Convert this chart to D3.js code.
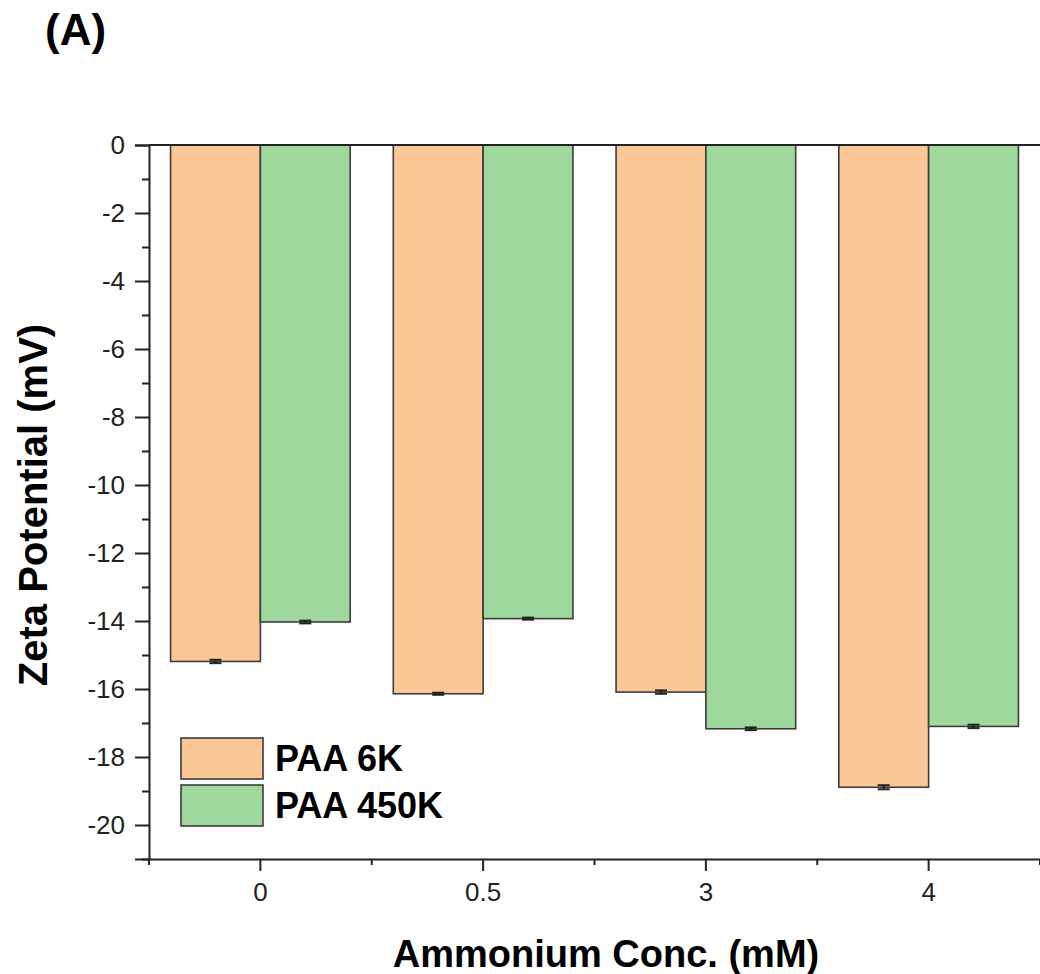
<!DOCTYPE html>
<html>
<head>
<meta charset="utf-8">
<script src="https://cdn.jsdelivr.net/npm/d3@7"></script>
<style>
  body { margin: 0; background: #fff; }
  svg { display: block; font-family: "Liberation Sans", Arial, sans-serif; }
</style>
</head>
<body>
<div id="container"></div>
<script>
// values
const categories = ["0", "0.5", "3", "4"];
const seriesNames = ["PAA 6K", "PAA 450K"];
const paa6k = [-15.19, -16.14, -16.09, -18.89];
const paa450k = [-14.03, -13.93, -17.17, -17.10];
const err6k = [0.05, 0.03, 0.05, 0.06];
const err450k = [0.04, 0.03, 0.04, 0.05];
const yMajor = [0, -2, -4, -6, -8, -10, -12, -14, -16, -18, -20];
const yMinor = [-1, -3, -5, -7, -9, -11, -13, -15, -17, -19, -21];

const colors = ["#fbc797", "#9fd89d"];

function init() {
  const width = 1040;
  const height = 974;
  const left = 149, right = 1040, top = 145, bottom = 859;

  const svg = d3.select("#container").append("svg")
    .attr("width", width)
    .attr("height", height);

  const x = d3.scaleBand().domain(categories).range([left, right]).padding(0);
  const xSub = d3.scaleBand().domain(seriesNames).range([0, x.bandwidth()])
    .paddingInner(0).paddingOuter(0.24);
  const y = d3.scaleLinear().domain([0, -21]).range([top, bottom]);

  const rows = categories.map((c, i) => ({
    cat: c,
    vals: [
      { name: seriesNames[0], v: paa6k[i], e: err6k[i], k: 0 },
      { name: seriesNames[1], v: paa450k[i], e: err450k[i], k: 1 }
    ]
  }));

  // bars
  const groups = svg.append("g").selectAll("g")
    .data(rows)
    .join("g")
    .attr("transform", d => `translate(${x(d.cat)},0)`);

  groups.selectAll("rect")
    .data(d => d.vals)
    .join("rect")
    .attr("x", d => xSub(d.name))
    .attr("y", y(0))
    .attr("width", xSub.bandwidth())
    .attr("height", d => y(d.v) - y(0))
    .attr("fill", d => colors[d.k])
    .attr("stroke", "#3c3c3c")
    .attr("stroke-width", 1.6);

  // error bars
  const eb = groups.selectAll("g.err")
    .data(d => d.vals)
    .join("g")
    .attr("class", "err")
    .attr("stroke", "#222")
    .attr("stroke-width", 2);
  eb.append("line")
    .attr("x1", d => xSub(d.name) + xSub.bandwidth() / 2)
    .attr("x2", d => xSub(d.name) + xSub.bandwidth() / 2)
    .attr("y1", d => y(d.v - d.e))
    .attr("y2", d => y(d.v + d.e));
  [-1, 1].forEach(s => {
    eb.append("line")
      .attr("x1", d => xSub(d.name) + xSub.bandwidth() / 2 - 6)
      .attr("x2", d => xSub(d.name) + xSub.bandwidth() / 2 + 6)
      .attr("y1", d => y(d.v + s * d.e))
      .attr("y2", d => y(d.v + s * d.e));
  });

  // zero line across the plot
  svg.append("line")
    .attr("x1", left).attr("x2", right)
    .attr("y1", y(0)).attr("y2", y(0))
    .attr("stroke", "#222").attr("stroke-width", 2);

  // y axis
  const yAxis = svg.append("g")
    .attr("transform", `translate(${left},0)`)
    .call(d3.axisLeft(y).tickValues(yMajor).tickSize(14).tickPadding(10)
      .tickFormat(d => String(d)));
  svg.append("g")
    .attr("transform", `translate(${left},0)`)
    .call(d3.axisLeft(y).tickValues(yMinor).tickSize(7).tickFormat(""))
    .select(".domain").remove();

  // x axis
  const xAxis = svg.append("g")
    .attr("transform", `translate(0,${bottom})`)
    .call(d3.axisBottom(x).tickSize(12).tickPadding(12).tickSizeOuter(0));
  const bounds = categories.map(c => x(c)).concat([x(categories[categories.length - 1]) + x.step()]);
  svg.append("g").selectAll("line")
    .data(bounds)
    .join("line")
    .attr("x1", d => d).attr("x2", d => d)
    .attr("y1", bottom).attr("y2", bottom + 6)
    .attr("stroke", "#222").attr("stroke-width", 2);

  [yAxis, xAxis].forEach(a => {
    a.selectAll(".domain").attr("stroke", "#222").attr("stroke-width", 2);
    a.selectAll(".tick text")
      .attr("font-family", "Liberation Sans, Arial, sans-serif")
      .attr("font-size", 26).attr("fill", "#222");
  });
  svg.selectAll("g .tick line").attr("stroke", "#222").attr("stroke-width", 2);

  // axis titles
  svg.append("text")
    .attr("x", 606).attr("y", 967)
    .attr("text-anchor", "middle")
    .attr("font-size", 38).attr("font-weight", "bold")
    .text("Ammonium Conc. (mM)");
  svg.append("text")
    .attr("transform", "translate(47,505) rotate(-90)")
    .attr("text-anchor", "middle")
    .attr("font-size", 40).attr("font-weight", "bold")
    .text("Zeta Potential (mV)");

  // panel label
  svg.append("text")
    .attr("x", 45).attr("y", 45)
    .attr("font-size", 44).attr("font-weight", "bold")
    .text("(A)");

  // legend
  const legend = svg.append("g").selectAll("g")
    .data(seriesNames)
    .join("g")
    .attr("transform", (d, i) => `translate(181,${738 + i * 47})`);
  legend.append("rect")
    .attr("width", 82).attr("height", 41)
    .attr("fill", (d, i) => colors[i])
    .attr("stroke", "#3c3c3c").attr("stroke-width", 1.6);
  legend.append("text")
    .attr("x", 94).attr("y", 33)
    .attr("font-size", 36).attr("font-weight", "bold")
    .text(d => d);
}

document.addEventListener("DOMContentLoaded", init);
</script>
</body>
</html>
